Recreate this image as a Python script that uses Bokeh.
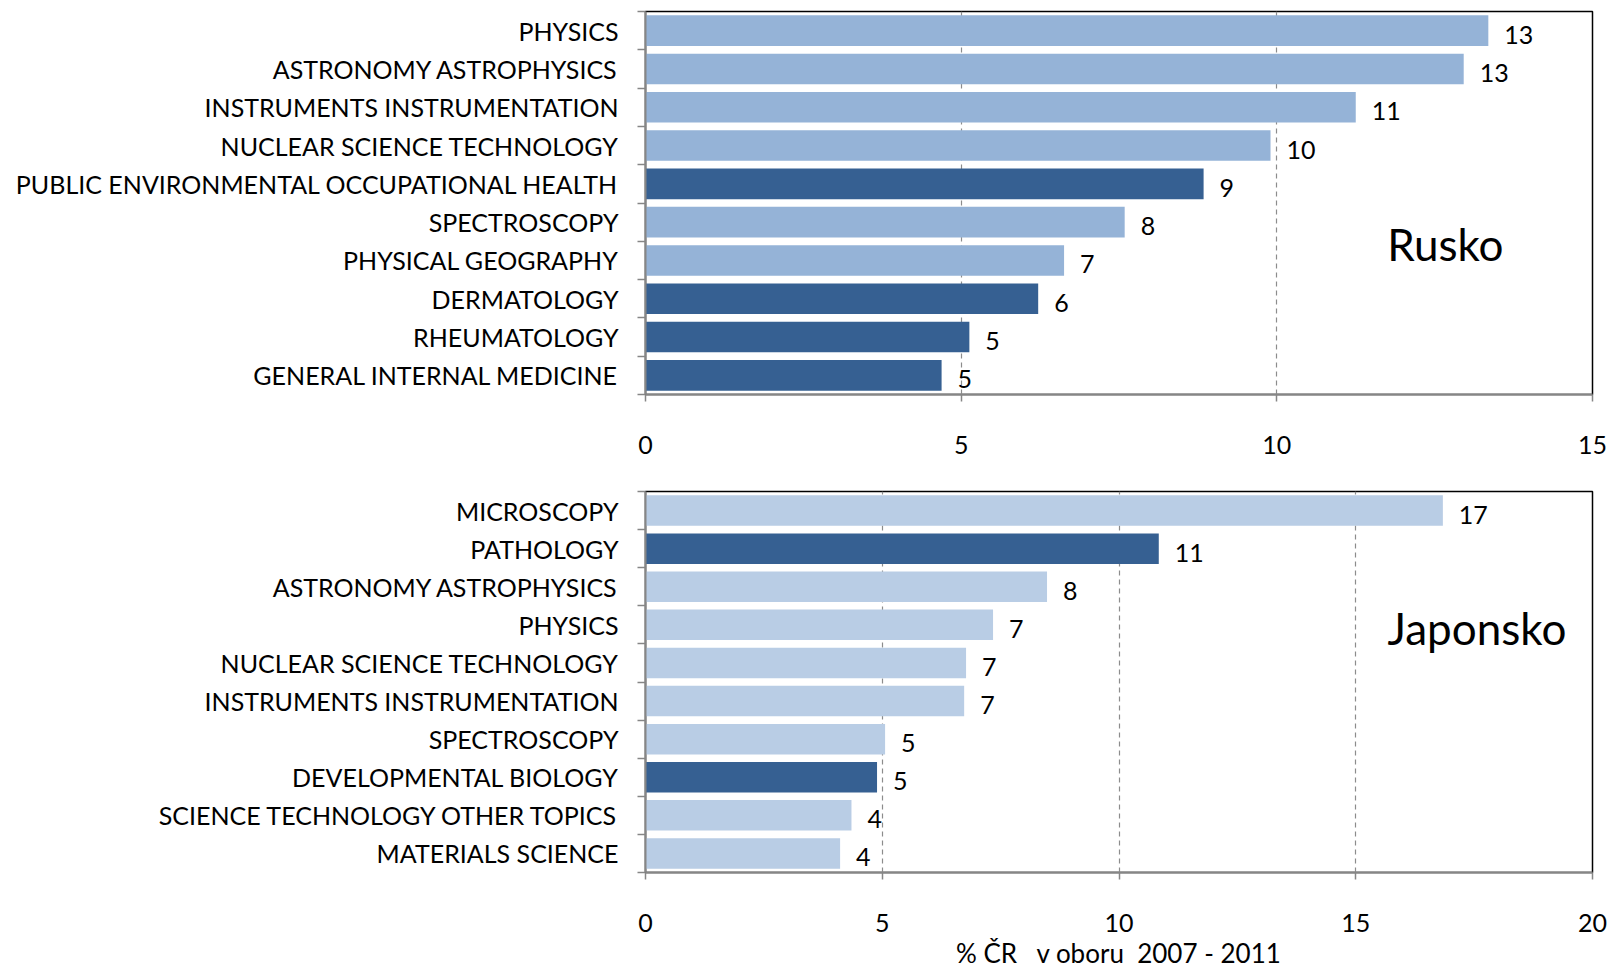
from bokeh.plotting import figure
from bokeh.models import ColumnDataSource, FixedTicker, SingleIntervalTicker, Label, Range1d
from bokeh.layouts import column
from bokeh.embed import file_html
from bokeh.resources import INLINE
from bokeh.core.properties import value

# ---- data: Rusko (top panel), listed top to bottom ----
ru_fields = ["PHYSICS", "ASTRONOMY ASTROPHYSICS", "INSTRUMENTS INSTRUMENTATION",
             "NUCLEAR SCIENCE TECHNOLOGY", "PUBLIC ENVIRONMENTAL OCCUPATIONAL HEALTH",
             "SPECTROSCOPY", "PHYSICAL GEOGRAPHY", "DERMATOLOGY", "RHEUMATOLOGY",
             "GENERAL INTERNAL MEDICINE"]
ru_values = [13.35, 12.96, 11.25, 9.90, 8.84, 7.59, 6.63, 6.22, 5.13, 4.69]
ru_labels = ["13", "13", "11", "10", "9", "8", "7", "6", "5", "5"]
ru_dark = [False, False, False, False, True, False, False, True, True, True]

# ---- data: Japonsko (bottom panel), listed top to bottom ----
jp_fields = ["MICROSCOPY", "PATHOLOGY", "ASTRONOMY ASTROPHYSICS", "PHYSICS",
             "NUCLEAR SCIENCE TECHNOLOGY", "INSTRUMENTS INSTRUMENTATION", "SPECTROSCOPY",
             "DEVELOPMENTAL BIOLOGY", "SCIENCE TECHNOLOGY OTHER TOPICS", "MATERIALS SCIENCE"]
jp_values = [16.84, 10.84, 8.48, 7.34, 6.77, 6.73, 5.06, 4.89, 4.35, 4.11]
jp_labels = ["17", "11", "8", "7", "7", "7", "5", "5", "4", "4"]
jp_dark = [False, True, False, False, False, False, False, True, False, False]

x_title = "% ČR\u00a0\u00a0 v oboru\u00a0 2007 - 2011"

FONT = "Lato"
FS = "25px"
DARK = "#366092"
GRAY = "#868686"


def panel(fields, values, labels, dark, light, xmax, name, name_x, name_y,
          height, b_top, b_bottom, b_left, xlabel=None, grid_colors=None):
    n = len(fields)
    ys = [n - 1 - i for i in range(n)]
    colors = [DARK if d else light for d in dark]
    src = ColumnDataSource(dict(y=ys, v=values, lab=labels, c=colors))
    p = figure(width=1613, height=height, output_backend="svg", toolbar_location=None,
               x_range=Range1d(0, xmax), y_range=Range1d(-0.5, n - 0.5),
               min_border_left=b_left, min_border_right=21,
               min_border_top=b_top, min_border_bottom=b_bottom)
    p.background_fill_color = "white"
    p.border_fill_color = "white"
    p.outline_line_color = "black"
    p.outline_line_width = 1.5

    p.hbar(y="y", right="v", left=0, height=0.8, fill_color="c", line_color=None, source=src)
    p.text(x="v", y="y", text="lab", source=src, x_offset=16, y_offset=4,
           text_font=value(FONT), text_font_size=FS, text_color="black",
           text_baseline="middle", text_align="left")

    # x axis
    xa = p.xaxis[0]
    xa.ticker = SingleIntervalTicker(interval=5, num_minor_ticks=0)
    xa.axis_line_color = GRAY
    xa.axis_line_width = 2
    xa.major_tick_line_color = GRAY
    xa.major_tick_line_width = 1.5
    xa.major_tick_out = 7
    xa.major_tick_in = 0
    xa.minor_tick_line_color = None
    xa.major_label_standoff = 34
    xa.major_label_text_font = FONT
    xa.major_label_text_font_size = FS
    xa.major_label_text_color = "black"
    if xlabel:
        xa.axis_label = xlabel
        xa.axis_label_text_font = FONT
        xa.axis_label_text_font_size = "26px"
        xa.axis_label_text_font_style = "normal"
        xa.axis_label_text_color = "black"
        xa.axis_label_standoff = 2

    # y axis: categories with tick marks between them
    ya = p.yaxis[0]
    ya.ticker = FixedTicker(ticks=ys, minor_ticks=[k - 0.5 for k in range(n + 1)])
    ya.major_label_overrides = {y: f for y, f in zip(ys, fields)}
    ya.axis_line_color = GRAY
    ya.axis_line_width = 2
    ya.major_tick_line_color = None
    ya.major_tick_out = 0
    ya.major_tick_in = 0
    ya.minor_tick_line_color = GRAY
    ya.minor_tick_line_width = 1.5
    ya.minor_tick_out = 8
    ya.minor_tick_in = 0
    ya.major_label_standoff = 19
    ya.major_label_text_font = FONT
    ya.major_label_text_font_size = FS
    ya.major_label_text_color = "black"

    p.xgrid.grid_line_color = "#8c8c8c"
    p.xgrid.grid_line_dash = "5 4"
    p.xgrid.grid_line_width = 1.2
    p.ygrid.grid_line_color = None

    p.add_layout(Label(x=name_x, y=name_y, text=name, text_font=FONT,
                       text_font_size="44px", text_color="black",
                       text_align="center", text_baseline="middle"))
    return p


top = panel(ru_fields, ru_values, ru_labels, ru_dark, "#95B3D7", 15, "Rusko", 12.67, 3.42,
            483, 11, 89, 645)
bottom = panel(jp_fields, jp_values, jp_labels, jp_dark, "#B9CDE5", 20, "Japonsko", 17.56, 5.93,
               488, 8, 94, 639, xlabel=x_title)

layout = column(top, bottom, spacing=0)
open("out.html", "w").write(file_html(layout, INLINE))
